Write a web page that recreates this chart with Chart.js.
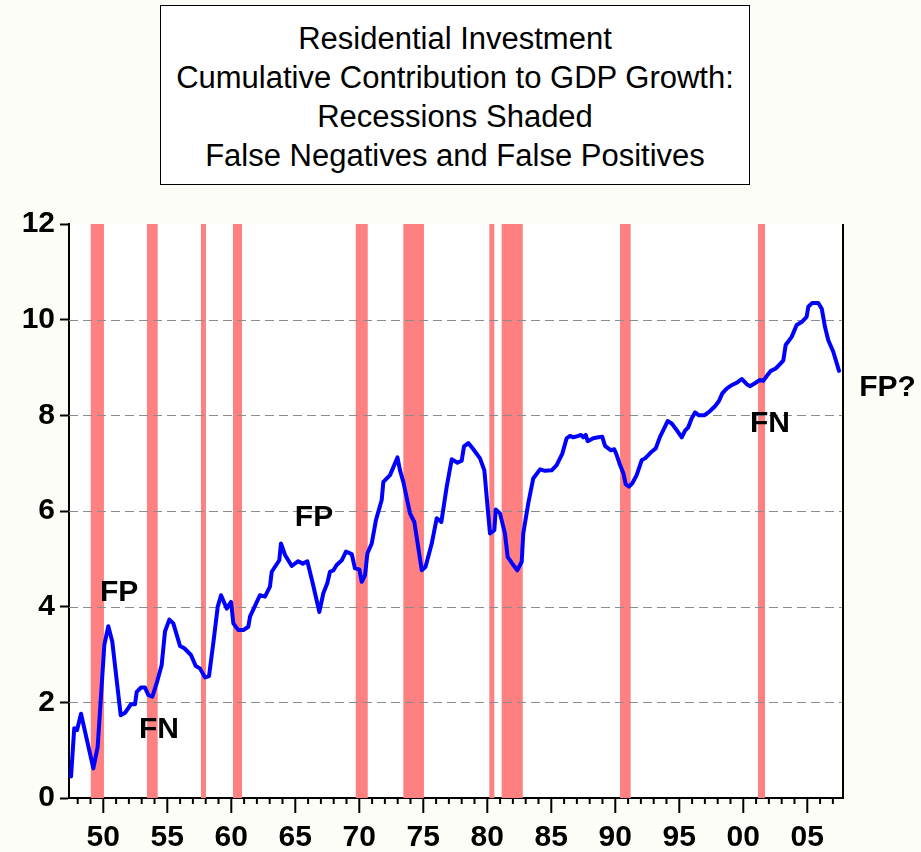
<!DOCTYPE html>
<html lang="en"><head>
<title>Residential Investment Cumulative Contribution</title>
<meta charset="utf-8">
<style type="text/css">
body     { margin:0; background-color:#fdfdf7; font-family:"Liberation Sans",Arial,sans-serif; }
#display { position:relative; width:921px; height:852px; }
#title   { position:absolute; left:160px; top:5px; width:590px; height:180px; box-sizing:border-box;
           border:1.5px solid #000; background-color:#ffffff; text-align:center;
           font-size:31px; line-height:39px; padding-top:13px; color:#000; }
canvas   { position:absolute; left:0; top:0; }
</style>
<script src="https://cdn.jsdelivr.net/npm/chart.js"></script>
<script>

// quarterly points (decimal year, value)
var years=[1947.48,1947.73,1947.95,1948.26,1949.22,1949.56,1950.08,1950.39,1950.70,1951.36,
  1951.70,1952.16,1952.48,1952.61,1952.95,1953.26,1953.52,1953.83,1954.17,1954.56,
  1954.82,1955.16,1955.47,1955.99,1956.33,1956.85,1957.22,1957.55,1957.95,1958.26,
  1958.59,1958.94,1959.20,1959.64,1959.98,1960.16,1960.55,1960.94,1961.33,1961.46,
  1962.24,1962.63,1963.02,1963.16,1963.75,1963.88,1964.20,1964.72,1965.23,1965.58,
  1965.94,1966.36,1966.88,1967.19,1967.50,1967.71,1967.97,1968.23,1968.63,1968.96,
  1969.41,1969.66,1970.00,1970.19,1970.45,1970.63,1970.97,1971.30,1971.75,1971.88,
  1972.40,1972.98,1973.18,1973.44,1973.96,1974.30,1974.88,1975.17,1975.66,1976.05,
  1976.41,1976.83,1977.22,1977.67,1978.00,1978.18,1978.52,1978.91,1979.43,1979.77,
  1979.95,1980.21,1980.55,1980.66,1980.99,1981.38,1981.59,1982.03,1982.34,1982.69,
  1982.81,1983.20,1983.59,1984.12,1984.51,1985.03,1985.42,1985.86,1986.20,1986.46,
  1986.72,1987.11,1987.32,1987.50,1987.69,1987.84,1988.28,1988.67,1988.98,1989.20,
  1989.45,1989.66,1989.92,1990.11,1990.37,1990.63,1990.81,1991.07,1991.33,1991.67,
  1992.06,1992.32,1992.58,1992.84,1993.16,1993.49,1993.75,1994.09,1994.41,1994.80,
  1995.19,1995.45,1995.70,1995.97,1996.23,1996.54,1996.95,1997.40,1997.79,1998.10,
  1998.36,1998.70,1999.09,1999.48,1999.88,2000.27,2000.52,2000.91,2001.30,2001.56,
  2001.83,2002.16,2002.53,2002.87,2003.13,2003.31,2003.78,2004.17,2004.56,2004.95,
  2005.08,2005.39,2005.86,2006.13,2006.38,2006.64,2007.03,2007.48];
var values=[0.45,1.46,1.42,1.76,0.62,1.07,3.20,3.59,3.27,1.73,
  1.78,1.96,1.96,2.22,2.31,2.31,2.15,2.12,2.40,2.78,
  3.48,3.73,3.65,3.18,3.13,2.99,2.76,2.71,2.52,2.55,
  3.23,4.00,4.24,3.96,4.10,3.65,3.51,3.51,3.58,3.79,
  4.24,4.21,4.42,4.73,4.97,5.32,5.08,4.85,4.95,4.90,
  4.95,4.49,3.89,4.28,4.49,4.73,4.76,4.87,4.97,5.15,
  5.10,4.80,4.78,4.52,4.66,5.11,5.32,5.81,6.23,6.61,
  6.75,7.12,6.85,6.61,5.95,5.77,4.76,4.83,5.32,5.85,
  5.77,6.51,7.08,7.01,7.05,7.35,7.42,7.29,7.10,6.85,
  6.30,5.53,5.60,6.03,5.95,5.53,5.04,4.87,4.76,4.94,
  5.53,6.16,6.68,6.87,6.84,6.85,6.96,7.20,7.52,7.57,
  7.54,7.57,7.59,7.54,7.59,7.46,7.52,7.54,7.55,7.36,
  7.31,7.27,7.29,7.17,6.96,6.79,6.56,6.51,6.58,6.75,
  7.06,7.10,7.17,7.24,7.31,7.55,7.69,7.88,7.83,7.69,
  7.54,7.68,7.75,7.94,8.06,8.00,8.00,8.09,8.19,8.30,
  8.46,8.56,8.63,8.68,8.76,8.65,8.61,8.67,8.74,8.72,
  8.82,8.93,8.98,9.07,9.15,9.47,9.64,9.89,9.95,10.06,
  10.27,10.35,10.35,10.23,9.85,9.57,9.33,8.93];

// recession bands
var recStart=[1949.02,1953.41,1957.63,1960.13,1969.72,1973.44,1980.16,1981.12,1990.37,2001.15];
var recEnd  =[1950.05,1954.25,1958.02,1960.84,1970.66,1975.05,1980.55,1982.77,1991.20,2001.70];

// labels on the chart
var notes =['FP','FN','FP','FN','FP?'];
var noteX =[1951.23,1954.35,1966.46,2002.08,2011.27];
var noteY =[4.30,1.42,5.85,7.83,8.58];

var xMin=1947.32, xMax=2007.79, yMin=0, yMax=12, yStep=2;

var FONT='"Liberation Sans",Arial,sans-serif';

var decor={id:'decor',
  beforeDraw:function(c) {
    var a=c.chartArea,x=c.ctx; x.save(); x.fillStyle='#ffffff';
    x.fillRect(a.left,a.top,a.right-a.left,a.bottom-a.top); x.restore(); },
  beforeDatasetsDraw:function(c) {
    var a=c.chartArea,x=c.ctx,xs=c.scales.x,ys=c.scales.y,i,p1,p2;
    x.save(); x.fillStyle='#ff8080';
    for (i=0;i<recStart.length;i++) {
      p1=xs.getPixelForValue(recStart[i]); p2=xs.getPixelForValue(recEnd[i]);
      x.fillRect(p1,a.top,p2-p1,a.bottom-a.top); }
    x.strokeStyle='#8c8c8c'; x.lineWidth=1; x.setLineDash([9,5]);
    ys.ticks.forEach(function(t) {
      if (t.value<=yMin || t.value>=yMax) { return; }
      var py=Math.round(ys.getPixelForValue(t.value))+0.5;
      x.beginPath(); x.moveTo(a.left,py); x.lineTo(a.right,py); x.stroke(); });
    x.restore(); },
  afterDraw:function(c) {
    var a=c.chartArea,x=c.ctx,xs=c.scales.x,ys=c.scales.y,yr,px,i;
    x.save(); x.strokeStyle='#000'; x.lineWidth=2;
    x.beginPath(); x.moveTo(a.right,a.top); x.lineTo(a.right,a.bottom+1); x.stroke();
    for (yr=Math.ceil(xMin);yr<=Math.floor(xMax);yr++) {
      px=xs.getPixelForValue(yr);
      x.beginPath(); x.moveTo(px,a.bottom); x.lineTo(px,a.bottom+(yr%5===0?15:6)); x.stroke(); }
    x.fillStyle='#000'; x.font='bold 30px '+FONT; x.textAlign='center'; x.textBaseline='middle';
    for (i=0;i<notes.length;i++) {
      x.fillText(notes[i],xs.getPixelForValue(noteX[i]),ys.getPixelForValue(noteY[i])); }
    x.restore(); } };

function initChart() {
  var pts=[],i;
  for (i=0;i<years.length;i++) { pts.push({x:years[i],y:values[i]}); }
  new Chart(document.getElementById('resChart'),{type:'line',
    data:{datasets:[{label:'Residential Investment',data:pts,
      borderColor:'#0000ff',backgroundColor:'#0000ff',borderWidth:4,
      pointRadius:0,tension:0,borderJoinStyle:'round',borderCapStyle:'round'}]},
    options:{responsive:false,animation:false,
      layout:{padding:{top:224,right:78,left:0,bottom:0}},
      plugins:{legend:{display:false},title:{display:false},tooltip:{enabled:false}},
      scales:{
        x:{type:'linear',min:xMin,max:xMax,z:1,
          afterFit:function(s){ s.height=54; },
          grid:{display:false,drawTicks:false},
          border:{display:true,color:'#000',width:2},
          ticks:{stepSize:5,includeBounds:false,autoSkip:false,maxRotation:0,padding:22,color:'#000',
            font:{family:FONT,size:30,weight:'bold'},
            callback:function(v){ var r=Math.round(v);
              if (Math.abs(v-r)>1e-6 || r%5!==0) { return ''; }
              return String(r%100).padStart(2,'0'); }}},
        y:{min:yMin,max:yMax,z:1,
          afterFit:function(s){ s.width=69; },
          grid:{drawOnChartArea:false,drawTicks:true,tickLength:9,tickColor:'#000',tickWidth:2},
          border:{display:true,color:'#000',width:2},
          ticks:{stepSize:yStep,padding:5,color:'#000',
            font:{family:FONT,size:30,weight:'bold'}}}}},
    plugins:[decor]}); }

</script></head>
<body onload="initChart();">
<div id="display">
  <canvas id="resChart" width="921" height="852"></canvas>
  <div id="title">Residential Investment<br>Cumulative Contribution to GDP Growth:<br>Recessions Shaded<br>False Negatives and False Positives</div>
</div>
</body></html>
